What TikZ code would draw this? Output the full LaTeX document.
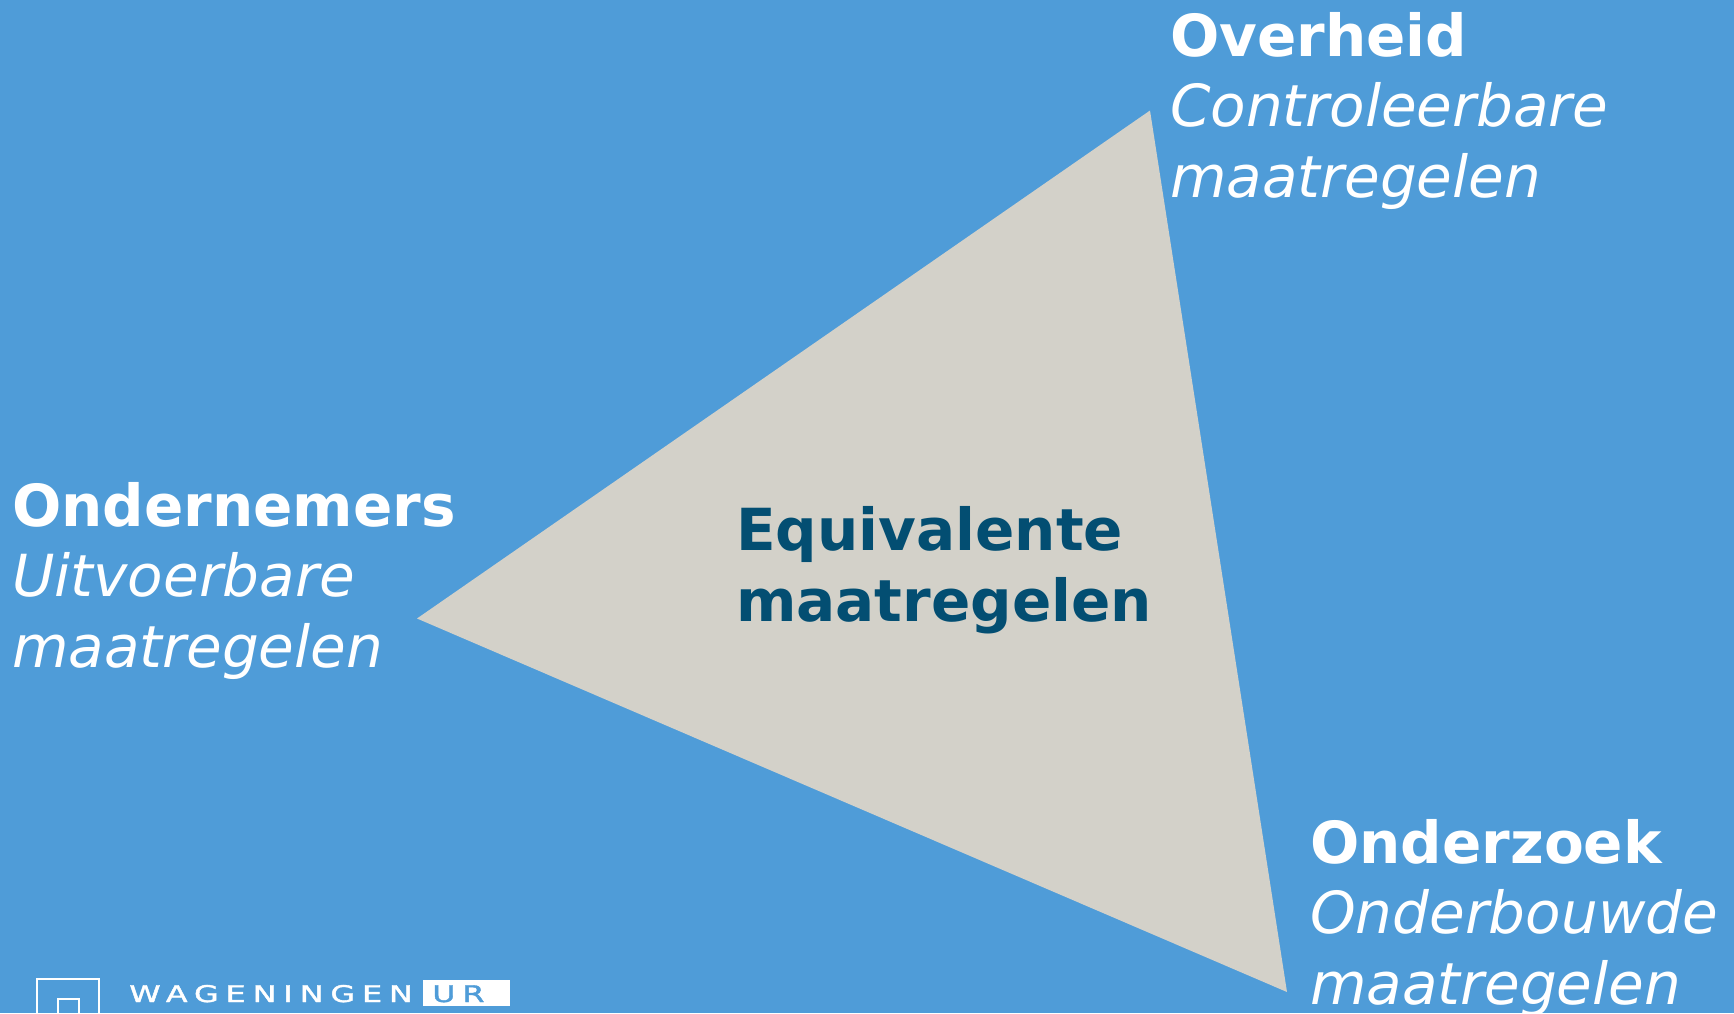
\documentclass[tikz,border=0pt]{standalone}
\usepackage{fontspec}
\setmainfont{DejaVu Sans}
\newfontfamily\logofont[LetterSpace=22,FakeBold=1.5]{DejaVu Sans}
\definecolor{bgblue}{HTML}{4F9CD8}
\definecolor{triangrey}{HTML}{D3D1C9}
\definecolor{darkteal}{HTML}{034E72}
\tikzset{
  actor/.style={align=left,anchor=base west,inner sep=0pt,text=white,font=\fontsize{58}{70.5}\selectfont},
  logoline/.style={draw=white,line width=2pt,fill=none},
  logotext/.style={inner sep=0pt,anchor=base west,font=\logofont\fontsize{23}{23}\selectfont,xscale=1.38},
}
\begin{document}
\begin{tikzpicture}[x=1pt,y=-1pt]
\path[use as bounding box,fill=bgblue] (0,0) rectangle (1734,1013);
\coordinate (apexT) at (1150,110.5);
\coordinate (apexL) at (417,618.5);
\coordinate (apexB) at (1287,992);
\fill[triangrey] (apexT) -- (apexL) -- (apexB) -- cycle;
\node[actor] (overheid) at (1170,197) {\textbf{Overheid}\\\textit{Controleerbare}\\\textit{maatregelen}};
\node[actor] (ondernemers) at (12,667) {\textbf{Ondernemers}\\\textit{Uitvoerbare}\\\textit{maatregelen}};
\node[actor] (onderzoek) at (1310,1004) {\textbf{Onderzoek}\\\textit{Onderbouwde}\\\textit{maatregelen}};
\node[actor,text=darkteal] (centre) at (736,621) {\textbf{Equivalente}\\\textbf{maatregelen}};
\begin{scope}
\clip (0,0) rectangle (1734,1013);
\draw[logoline] (36.5,978.5) rectangle (98.5,1040);
\draw[logoline] (57.5,999) rectangle (78.5,1040);
\node[logotext,text=white] (wag) at (129,1002) {WAGENINGEN};
\node[fill=white,minimum width=87pt,minimum height=26pt,inner sep=0pt,anchor=north west] (urbox) at (423,980) {};
\node[logotext,text=bgblue] (ur) at (432,1002) {UR};
\end{scope}
\end{tikzpicture}
\end{document}
